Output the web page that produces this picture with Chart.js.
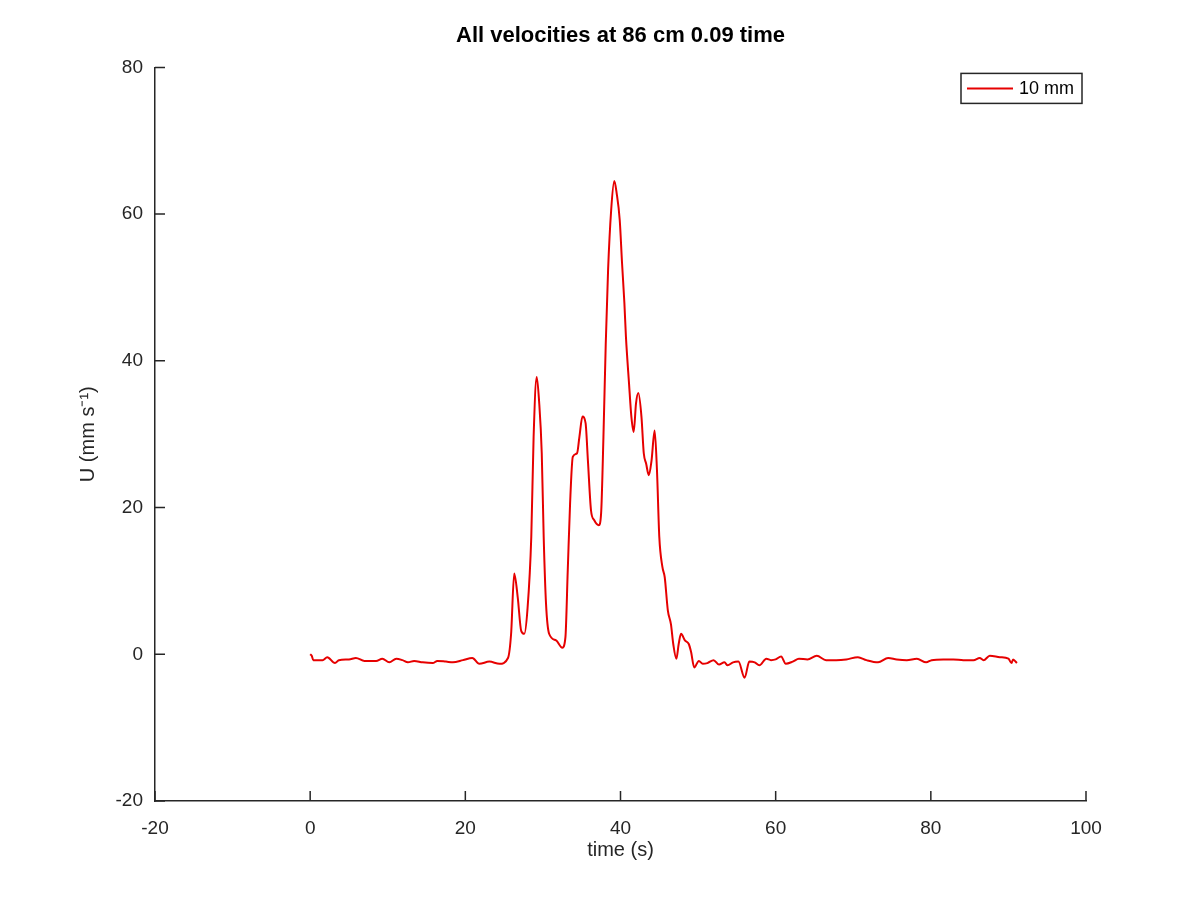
<!DOCTYPE html>
<html>
<head>
<meta charset="utf-8">
<title>All velocities at 86 cm 0.09 time</title>
<script src="https://cdn.jsdelivr.net/npm/chart.js@4"></script>
<style>
    html, body { margin: 0; padding: 0; background: #fff; }
    #wrap { width: 1200px; height: 900px; }
</style>
</head>
<body>
<div id="wrap"><canvas id="velocityChart" width="1200" height="900"></canvas></div>
<script>
// Values
const seriesLabel = '10 mm';
const timeValues = [
    0.0, 0.2, 0.4, 1.6, 2.2, 3.2, 3.7, 5.0, 5.9, 7.0, 8.5, 9.3, 10.2, 11.1, 11.9, 12.6, 13.4, 14.5,
    15.8, 16.4, 17.5, 18.4, 19.7, 20.9, 21.8, 23.1, 24.4, 25.5, 25.9, 26.3, 26.75, 27.2, 27.6, 28.0,
    28.5, 28.8, 29.2, 29.5, 29.85, 30.1, 30.4, 30.8, 31.7, 32.5, 32.9, 33.2, 33.5, 33.85, 34.4, 34.7,
    35.1, 35.5, 35.8, 36.2, 36.6, 37.2, 37.5, 37.8, 38.1, 38.4, 38.8, 39.2, 39.5, 39.9, 40.2, 40.5,
    40.7, 41.1, 41.4, 41.7, 42.0, 42.3, 42.7, 43.0, 43.3, 43.65, 44.0, 44.4, 44.7, 45.0, 45.4, 45.7,
    46.1, 46.5, 46.8, 47.2, 47.5, 47.8, 48.3, 48.8, 49.1, 49.5, 50.1, 50.6, 51.2, 52.0, 52.7, 53.4,
    53.8, 54.5, 55.2, 56.0, 56.6, 57.3, 57.9, 58.8, 59.4, 60.0, 60.7, 61.3, 62.2, 63.0, 64.1, 65.3,
    66.5, 67.8, 69.1, 70.6, 71.7, 73.2, 74.5, 75.6, 76.9, 78.2, 79.4, 80.1, 81.6, 82.9, 84.2, 85.5,
    86.3, 86.8, 87.6, 88.9, 90.0, 90.4, 90.6, 91.1
];
const velocityValues = [
    0.0, -0.2, -0.8, -0.8, -0.4, -1.2, -0.8, -0.7, -0.5, -0.9, -0.9, -0.6, -1.1, -0.6, -0.8, -1.1, -0.9, -1.1,
    -1.2, -0.9, -1.0, -1.1, -0.8, -0.5, -1.3, -1.0, -1.3, -0.5, 2.8, 11.0, 7.8, 3.2, 2.8, 6.0,
    16.0, 29.6, 37.8, 34.6, 27.4, 16.0, 6.9, 2.8, 1.9, 0.9, 2.3, 11.4, 20.5, 26.9, 27.4, 29.6,
    32.4, 31.5, 26.4, 19.6, 18.3, 17.6, 19.2, 29.6, 42.4, 52.4, 60.6, 64.5, 62.9, 59.2, 53.3, 47.9,
    43.3, 36.9, 32.4, 30.3, 34.2, 35.6, 32.4, 27.4, 26.0, 24.4, 26.4, 30.5, 25.1, 16.0, 11.9, 10.5,
    6.0, 4.1, 1.4, -0.6, 1.4, 2.8, 1.9, 1.4, 0.3, -1.8, -0.9, -1.3, -1.2, -0.8, -1.4, -1.1,
    -1.5, -1.1, -1.0, -3.2, -1.0, -1.1, -1.5, -0.6, -0.8, -0.7, -0.3, -1.3, -1.0, -0.6, -0.7, -0.2,
    -0.8, -0.8, -0.7, -0.4, -0.8, -1.1, -0.5, -0.7, -0.8, -0.6, -1.1, -0.8, -0.7, -0.7, -0.8, -0.8,
    -0.5, -0.8, -0.2, -0.4, -0.6, -1.2, -0.7, -1.2
];
const xTicks = [-20, 0, 20, 40, 60, 80, 100];
const yTicks = [-20, 0, 20, 40, 60, 80];

const AXIS_COLOR = '#262626';
const LINE_COLOR = '#e60000';

Chart.defaults.font.family = '"Liberation Sans", Arial, Helvetica, sans-serif';
Chart.defaults.color = AXIS_COLOR;

/**
 * Inward tick marks, like the original plot
 */
const inwardTicks = {
    id: 'inwardTicks',
    afterDatasetsDraw(chart) {
        const { ctx, chartArea, scales } = chart;
        const len = 10;
        ctx.save();
        ctx.strokeStyle = AXIS_COLOR;
        ctx.lineWidth = 1.5;
        ctx.beginPath();
        xTicks.forEach((v) => {
            const px = scales.x.getPixelForValue(v);
            ctx.moveTo(px, chartArea.bottom);
            ctx.lineTo(px, chartArea.bottom - len);
        });
        yTicks.forEach((v) => {
            const py = scales.y.getPixelForValue(v);
            ctx.moveTo(chartArea.left, py);
            ctx.lineTo(chartArea.left + len, py);
        });
        ctx.stroke();
        ctx.restore();
    },
};

/**
 * Boxed legend in the upper right corner of the plot area
 */
const boxedLegend = {
    id: 'boxedLegend',
    afterDraw(chart) {
        const { ctx, chartArea } = chart;
        const ds = chart.data.datasets[0];
        const boxW = 121;
        const boxH = 30;
        const x0 = chartArea.right - 4 - boxW;
        const y0 = chartArea.top + 6;
        ctx.save();
        ctx.fillStyle = '#fff';
        ctx.fillRect(x0, y0, boxW, boxH);
        ctx.strokeStyle = AXIS_COLOR;
        ctx.lineWidth = 1.5;
        ctx.strokeRect(x0, y0, boxW, boxH);
        ctx.strokeStyle = ds.borderColor;
        ctx.lineWidth = 2;
        ctx.beginPath();
        ctx.moveTo(x0 + 6, y0 + boxH / 2);
        ctx.lineTo(x0 + 52, y0 + boxH / 2);
        ctx.stroke();
        ctx.fillStyle = '#000';
        ctx.font = '18px "Liberation Sans", Arial, sans-serif';
        ctx.textBaseline = 'middle';
        ctx.fillText(ds.label, x0 + 58, y0 + boxH / 2 + 1);
        ctx.restore();
    },
};

const points = timeValues.map((t, i) => ({ x: t, y: velocityValues[i] }));

new Chart(document.getElementById('velocityChart').getContext('2d'), {
    type: 'line',
    data: {
        datasets: [
            {
                label: seriesLabel,
                data: points,
                borderColor: LINE_COLOR,
                borderWidth: 2,
                pointRadius: 0,
                cubicInterpolationMode: 'monotone',
                fill: false,
            },
        ],
    },
    options: {
        responsive: false,
        animation: false,
        layout: { padding: { left: 0, top: 0, right: 114, bottom: 0 } },
        scales: {
            x: {
                type: 'linear',
                min: -20,
                max: 100,
                afterBuildTicks: (scale) => { scale.ticks = xTicks.map((v) => ({ value: v })); },
                afterFit: (scale) => { scale.height = 99; },
                grid: { display: false, drawTicks: false },
                border: { display: true, color: AXIS_COLOR, width: 1.5 },
                ticks: { padding: 16, font: { size: 19 }, color: AXIS_COLOR, maxRotation: 0 },
                title: {
                    display: true,
                    text: 'time (s)',
                    font: { size: 20 },
                    color: AXIS_COLOR,
                    padding: { top: 0, bottom: 38 },
                },
            },
            y: {
                type: 'linear',
                min: -20,
                max: 80,
                afterBuildTicks: (scale) => { scale.ticks = yTicks.map((v) => ({ value: v })); },
                afterFit: (scale) => { scale.width = 155; },
                grid: { display: false, drawTicks: false },
                border: { display: true, color: AXIS_COLOR, width: 1.5 },
                ticks: { padding: 12, font: { size: 19 }, color: AXIS_COLOR },
                title: {
                    display: true,
                    text: 'U (mm s⁻¹)',
                    font: { size: 20 },
                    color: AXIS_COLOR,
                    padding: { top: 76, bottom: 0 },
                },
            },
        },
        plugins: {
            legend: { display: false },
            tooltip: { enabled: false },
            title: {
                display: true,
                fullSize: false,
                text: 'All velocities at 86 cm 0.09 time',
                color: '#000',
                font: { size: 22, weight: 'bold' },
                padding: { top: 23, bottom: 18 },
            },
        },
    },
    plugins: [inwardTicks, boxedLegend],
});
</script>
</body>
</html>
